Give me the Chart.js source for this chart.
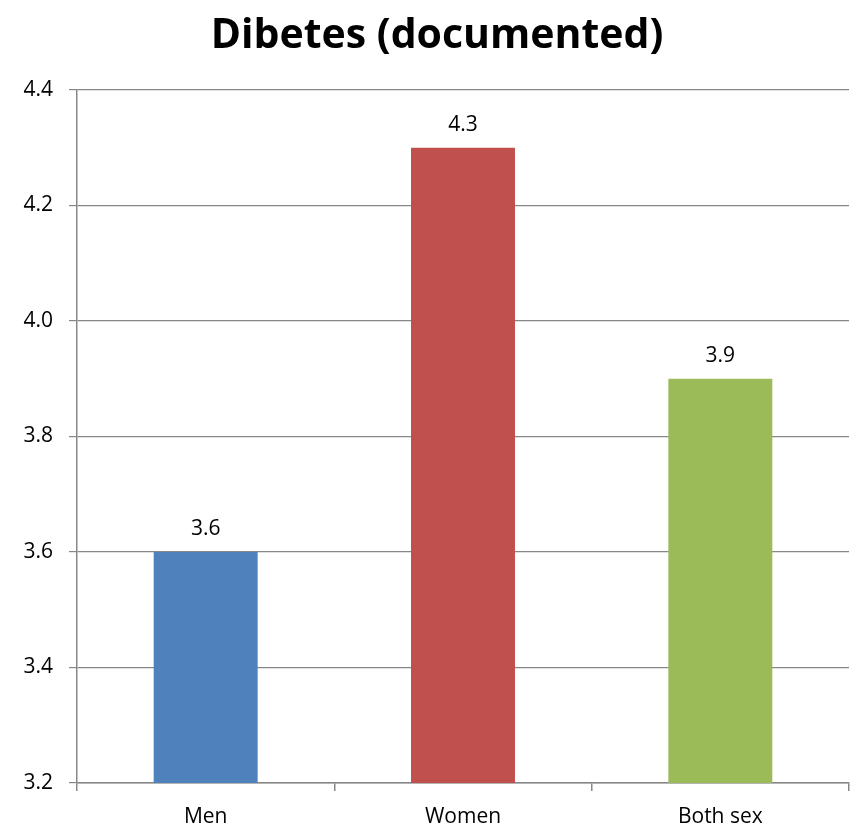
<!DOCTYPE html>
<html>
<head>
<meta charset="utf-8">
<script src="https://cdn.jsdelivr.net/npm/chart.js@4/dist/chart.umd.min.js"></script>
<style>
  html, body { margin: 0; padding: 0; background: #ffffff; }
  #wrap { width: 852px; height: 829px; }
</style>
</head>
<body>
<div id="wrap"><canvas id="c" width="852" height="829"></canvas></div>
<script>
// Chart content
const chartTitle = 'Dibetes (documented)';
const categories = ['Men', 'Women', 'Both sex'];
const prevalence = [3.6, 4.3, 3.9];
const barColors = ['#4F81BD', '#C0504D', '#9BBB59'];
const yMin = 3.2, yMax = 4.4, yStep = 0.2;

const FONT = "'Open Sans', 'Liberation Sans', sans-serif";
const AXIS_GRAY = '#878787';

// Title drawn above the plot, centred over the whole figure
const titlePlugin = {
  id: 'figTitle',
  afterDraw(chart) {
    const ctx = chart.ctx;
    ctx.save();
    ctx.font = "bold 41px " + FONT;
    ctx.fillStyle = '#000000';
    ctx.textAlign = 'center';
    ctx.textBaseline = 'alphabetic';
    ctx.fillText(chartTitle, 437, 48);
    ctx.restore();
  }
};

// Value written above each bar
const valueLabels = {
  id: 'valueLabels',
  afterDatasetsDraw(chart) {
    const ctx = chart.ctx;
    const meta = chart.getDatasetMeta(0);
    ctx.save();
    ctx.font = "21px " + FONT;
    ctx.fillStyle = '#000000';
    ctx.textAlign = 'center';
    ctx.textBaseline = 'bottom';
    meta.data.forEach((bar, i) => {
      const v = chart.data.datasets[0].data[i];
      ctx.fillText(v.toFixed(1), bar.x, bar.y - 12);
    });
    ctx.restore();
  }
};

new Chart(document.getElementById('c'), {
  type: 'bar',
  data: {
    labels: categories,
    datasets: [{
      data: prevalence,
      backgroundColor: barColors,
      borderWidth: 0,
      categoryPercentage: 1.0,
      barPercentage: 0.404
    }]
  },
  options: {
    responsive: false,
    animation: false,
    devicePixelRatio: 1,
    layout: { padding: { top: 90, right: 3, left: 0, bottom: 0 } },
    plugins: {
      legend: { display: false },
      title: { display: false },
      tooltip: { enabled: false }
    },
    scales: {
      x: {
        grid: {
          display: true,
          offset: true,
          drawOnChartArea: false,
          drawTicks: true,
          tickLength: 8,
          color: AXIS_GRAY,
          lineWidth: 1.5
        },
        border: { display: true, color: AXIS_GRAY, width: 1.5 },
        ticks: {
          color: '#000000',
          font: { family: FONT, size: 21 },
          padding: 13
        },
        afterFit(scale) { scale.height = 46; }
      },
      y: {
        min: yMin,
        max: yMax,
        grid: {
          color: AXIS_GRAY,
          lineWidth: 1.2,
          drawTicks: true,
          tickLength: 8
        },
        border: { display: true, color: AXIS_GRAY, width: 1.5 },
        ticks: {
          stepSize: yStep,
          color: '#000000',
          font: { family: FONT, size: 21 },
          padding: 16,
          callback: (v) => Number(v).toFixed(1)
        },
        afterFit(scale) { scale.width = 77; }
      }
    }
  },
  plugins: [titlePlugin, valueLabels]
});
</script>
</body>
</html>
